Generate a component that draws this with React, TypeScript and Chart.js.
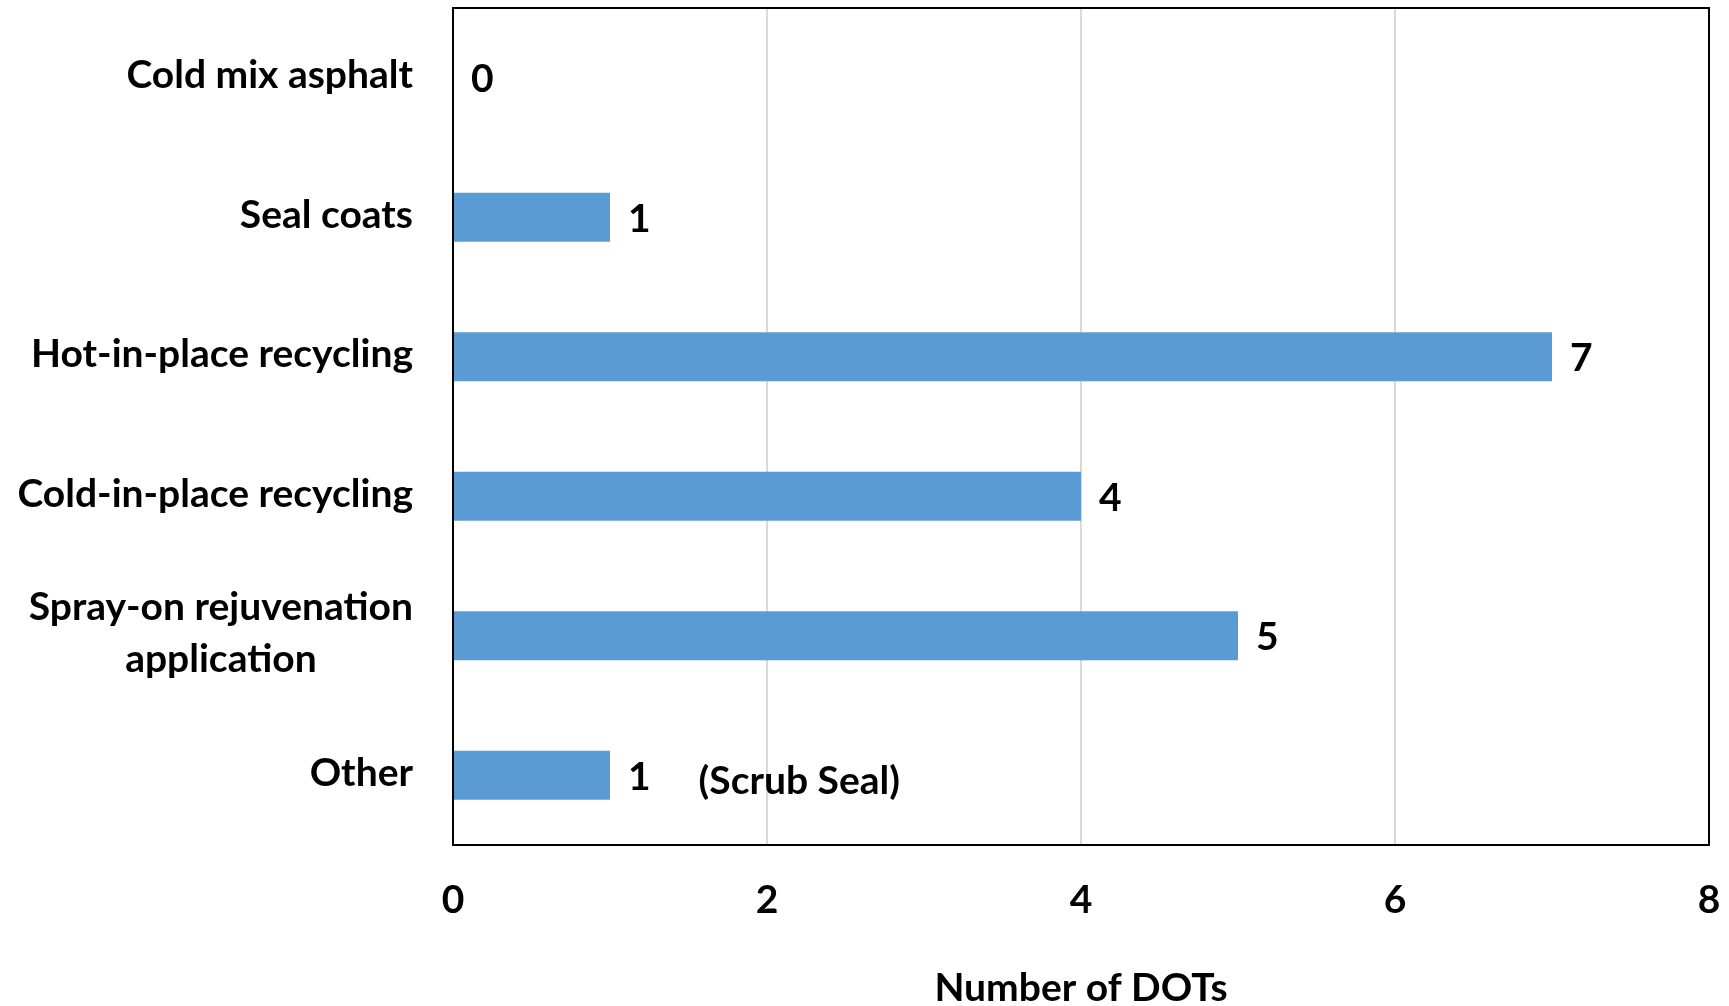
import React, { useEffect, useRef } from "react";
import { Chart, registerables } from "chart.js";

Chart.register(...registerables);

// Survey results: treatments used, by number of DOTs
const categories: string[][] = [
  ["Cold mix asphalt"],
  ["Seal coats"],
  ["Hot-in-place recycling"],
  ["Cold-in-place recycling"],
  ["Spray-on rejuvenation", "application"],
  ["Other"],
];
const dotCounts: number[] = [0, 1, 7, 4, 5, 1];
const notes: string[] = ["", "", "", "", "", "(Scrub Seal)"];
const xMin = 0;
const xMax = 8;
const xStep = 2;
const axisTitle = "Number of DOTs";

const FONT_FAMILY = "Lato, 'Open Sans', sans-serif";
const FONT_SIZE = 39;
const BAR_COLOR = "#5B9BD5";
const GRID_COLOR = "#d9d9d9";

const fontStr = `bold ${FONT_SIZE}px ${FONT_FAMILY}`;

const labelsPlugin = {
  id: "barLabels",
  afterDatasetsDraw(chart: any) {
    const ctx = chart.ctx;
    const meta = chart.getDatasetMeta(0);
    ctx.save();
    ctx.font = fontStr;
    ctx.fillStyle = "#000";
    ctx.textBaseline = "middle";
    ctx.textAlign = "left";
    meta.data.forEach((el: any, i: number) => {
      const txt = String(dotCounts[i]);
      const x = el.x + 18;
      const y = el.y + 2;
      ctx.fillText(txt, x, y);
      if (notes[i]) {
        const w = ctx.measureText(txt).width;
        ctx.fillText(notes[i], x + w + 48, y + 4);
      }
    });
    ctx.restore();
  },
  afterDraw(chart: any) {
    const ctx = chart.ctx;
    const { left, right, top, bottom } = chart.chartArea;
    const yScale = chart.scales.y;
    ctx.save();
    // plot frame
    ctx.strokeStyle = "#000";
    ctx.lineWidth = 2;
    ctx.strokeRect(left, top, right - left, bottom - top);
    // category labels, each block centred on itself and right-aligned to the axis
    ctx.font = fontStr;
    ctx.fillStyle = "#000";
    ctx.textBaseline = "middle";
    ctx.textAlign = "center";
    const lineGap = 52;
    const rightEdge = left - 40;
    categories.forEach((lines, i) => {
      const yc = yScale.getPixelForTick(i);
      const maxW = Math.max(...lines.map((l) => ctx.measureText(l).width));
      const cx = rightEdge - maxW / 2;
      const y0 = yc - ((lines.length - 1) * lineGap) / 2;
      lines.forEach((l, j) => ctx.fillText(l, cx, y0 + j * lineGap - 2));
    });
    ctx.restore();
  },
};

export default function App() {
  const canvasRef = useRef<HTMLCanvasElement | null>(null);

  useEffect(() => {
    if (!canvasRef.current) return;
    const chart = new Chart(canvasRef.current, {
      type: "bar",
      data: {
        labels: categories.map((c) => c.join(" ")),
        datasets: [
          {
            data: dotCounts,
            backgroundColor: BAR_COLOR,
            borderWidth: 0,
            barPercentage: 0.35,
            categoryPercentage: 1,
          },
        ],
      },
      options: {
        indexAxis: "y",
        animation: false,
        responsive: false,
        maintainAspectRatio: false,
        layout: { padding: { left: 0, right: 20, top: 8, bottom: 0 } },
        plugins: {
          legend: { display: false },
          tooltip: { enabled: false },
        },
        scales: {
          x: {
            type: "linear",
            min: xMin,
            max: xMax,
            ticks: {
              stepSize: xStep,
              padding: 32,
              color: "#000",
              font: { family: FONT_FAMILY, size: FONT_SIZE, weight: "bold" },
            },
            grid: {
              drawTicks: false,
              lineWidth: 2,
              color: (c: any) =>
                c.tick && (c.tick.value === xMin || c.tick.value === xMax)
                  ? "rgba(0,0,0,0)"
                  : GRID_COLOR,
            },
            border: { display: false },
            title: {
              display: true,
              text: axisTitle,
              color: "#000",
              font: { family: FONT_FAMILY, size: FONT_SIZE, weight: "bold" },
              padding: { top: 0, bottom: -6 },
            },
            afterFit: (scale: any) => {
              scale.height = 161;
              scale.paddingLeft = 0;
              scale.paddingRight = 0;
            },
          },
          y: {
            type: "category",
            ticks: { display: false },
            grid: { display: false, drawTicks: false },
            border: { display: false },
            afterFit: (scale: any) => {
              scale.width = 453;
              scale.paddingTop = 0;
              scale.paddingBottom = 0;
            },
          },
        },
      },
      plugins: [labelsPlugin],
    } as any);
    return () => chart.destroy();
  }, []);

  return (
    <div
      style={{
        position: "fixed",
        left: 0,
        top: 0,
        width: 1729,
        height: 1006,
        background: "#fff",
      }}
    >
      <canvas ref={canvasRef} width={1729} height={1006} />
    </div>
  );
}
